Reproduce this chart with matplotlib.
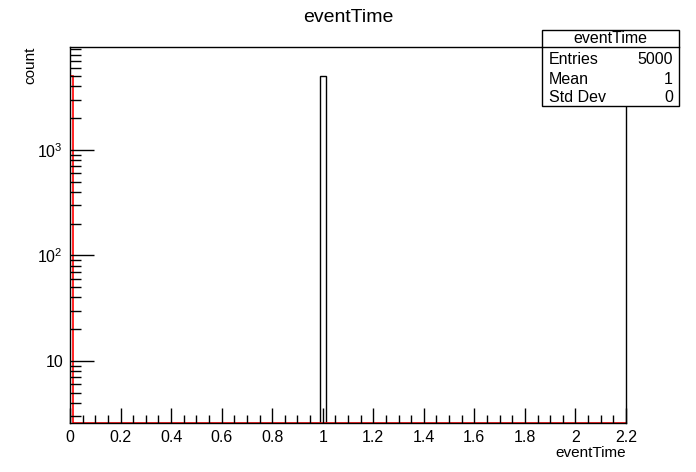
import matplotlib.pyplot as plt
import matplotlib.ticker as mticker
import numpy as np
from matplotlib.patches import Rectangle
from matplotlib.lines import Line2D

plt.rcParams['font.family'] = ['Liberation Sans', 'DejaVu Sans']
plt.rcParams['mathtext.fontset'] = 'custom'
plt.rcParams['mathtext.rm'] = 'Liberation Sans'
plt.rcParams['mathtext.it'] = 'Liberation Sans'

# histogram contents (ROOT style)
x_min, x_max = 0.0, 2.2
n_bins = 100
event_values = [1.0]          # all entries at 1
event_weights = [5000]
red_values = [0.005]
red_weights = [5000]
red_bins = 200
stats_labels = ['Entries', 'Mean', 'Std Dev']
stats_values = ['5000', '1', '0']
y_lo, y_hi = 2.58, 9470

fig = plt.figure(figsize=(6.96, 4.72), dpi=100)
ax = fig.add_axes([70/696, 1-423/472, 556/696, 376/472])
ax.set_yscale('log')
ax.set_xlim(x_min, x_max)
ax.set_ylim(y_lo, y_hi)

edges = np.linspace(x_min, x_max, n_bins + 1)
counts, _ = np.histogram(event_values, bins=edges, weights=event_weights)
ax.stairs(counts, edges, color='black', lw=1.0, baseline=0)

red_edges = np.linspace(x_min, x_max, red_bins + 1)
red_counts, _ = np.histogram(red_values, bins=red_edges, weights=red_weights)
ax.stairs(np.maximum(red_counts, y_lo), red_edges, color='red', lw=1.2, baseline=None)

for s in ax.spines.values():
    s.set_linewidth(1.0)

ax.xaxis.set_major_locator(mticker.MultipleLocator(0.2))
ax.xaxis.set_minor_locator(mticker.MultipleLocator(0.05))
ax.xaxis.set_major_formatter(mticker.FuncFormatter(lambda v, p: f'{v:g}'))

def yfmt(v, p):
    k = int(round(np.log10(v)))
    return '10' if k == 1 else r'$10^{%d}$' % k

ax.yaxis.set_major_locator(mticker.LogLocator(base=10))
ax.yaxis.set_minor_locator(mticker.LogLocator(base=10, subs=np.arange(2, 10)))
ax.yaxis.set_major_formatter(mticker.FuncFormatter(yfmt))
ax.yaxis.set_minor_formatter(mticker.NullFormatter())

ax.tick_params(axis='both', which='both', direction='in', top=False, right=False, width=1.0, labelsize=11.5)
ax.tick_params(axis='x', which='major', length=11, pad=5)
ax.tick_params(axis='x', which='minor', length=5.5)
ax.tick_params(axis='y', which='major', length=17, pad=5)
ax.tick_params(axis='y', which='minor', length=8)

fig.text(348/696, 1-17/472, 'eventTime', ha='center', va='center', fontsize=14)
fig.text(626/696, 1-453/472, 'eventTime', ha='right', va='center', fontsize=11)
fig.text(30/696, 1-47/472, 'count', ha='center', va='top', rotation=90, fontsize=11)

# stats box
bx0, bx1 = 542/696, 679/696
by0, by1 = 1-106/472, 1-30/472
fig.patches.append(Rectangle((bx0, by0), bx1-bx0, by1-by0, transform=fig.transFigure,
                             facecolor='white', edgecolor='black', lw=1.0, zorder=5))
fig.lines.append(Line2D([bx0, bx1], [1-47/472]*2, transform=fig.transFigure, color='black', lw=1.0, zorder=6))
fig.text((bx0+bx1)/2, 1-38.5/472, 'eventTime', ha='center', va='center', fontsize=11.5, zorder=7)
for i, (lab, val) in enumerate(zip(stats_labels, stats_values)):
    yy = 1-(60+19*i)/472
    fig.text(549/696, yy, lab, ha='left', va='center', fontsize=11.5, zorder=7)
    fig.text(673/696, yy, val, ha='right', va='center', fontsize=11.5, zorder=7)

fig.savefig('out.png', dpi=100)
